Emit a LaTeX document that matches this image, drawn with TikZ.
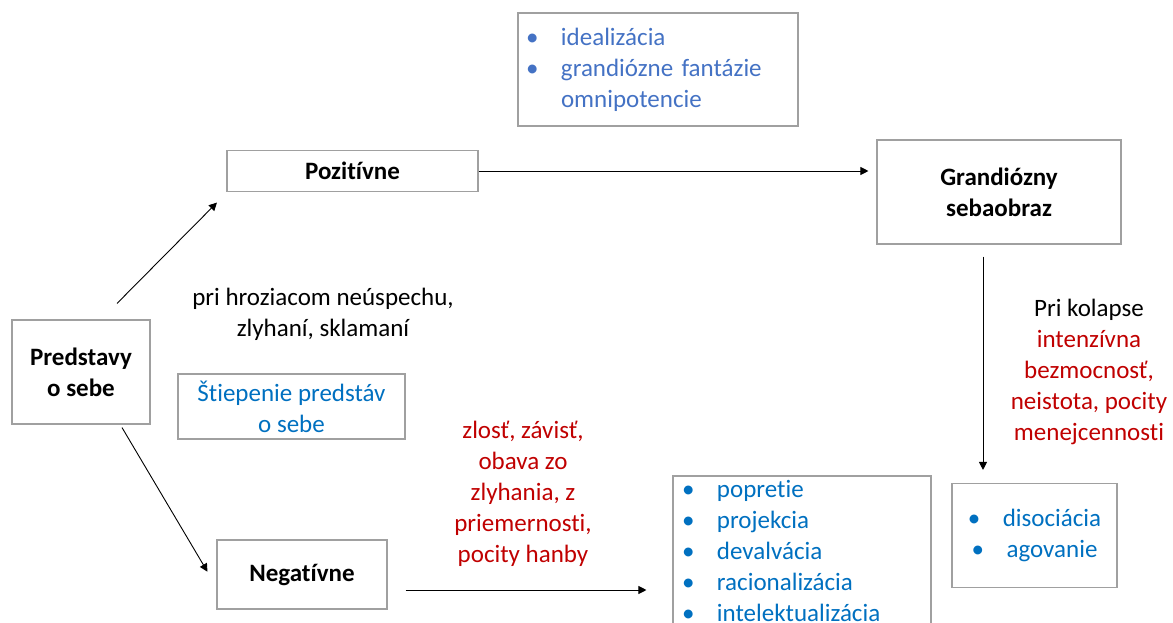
\documentclass[tikz,border=0pt]{standalone}
\usepackage{fontspec}
\setmainfont{Carlito}[RawFeature=-liga]
\usepackage{xcolor}
\usetikzlibrary{arrows.meta,calc}
\definecolor{boxgray}{RGB}{160,160,160}
\definecolor{lightblue}{RGB}{68,114,196}
\definecolor{deepblue}{RGB}{0,112,192}
\definecolor{deepred}{RGB}{192,0,0}
\tikzstyle{framed} = [rectangle, draw=boxgray, line width=1.1pt, inner sep=0pt, align=center]
\tikzstyle{heading} = [framed, font=\fontsize{25}{31}\selectfont\bfseries]
\tikzstyle{arrow} = [line width=0.9pt,-{Triangle[length=8pt,width=8pt]}]
\newcommand{\bul}{\makebox[35pt][l]{•}}

\begin{document}
\begin{tikzpicture}[x=1pt, y=-1pt, font=\fontsize{25}{31}\selectfont]
\useasboundingbox (0,0) rectangle (1173,623);
\clip (0,0) rectangle (1173,623);

\node (pred) [heading, minimum width=138pt, minimum height=104pt] at (81,372) {Predstavy\\o sebe};
\node (pos) [heading, minimum width=251pt, minimum height=41pt] at (352.5,171) {Pozitívne};
\node (neg) [heading, minimum width=170pt, minimum height=69pt] at (302,574.5) {Negatívne};
\node (grand) [heading, minimum width=244pt, minimum height=104pt] at (999,192) {Grandiózny\\sebaobraz};
\node (ideal) [framed, align=left, text width=264pt, inner xsep=8pt, minimum height=113pt, text=lightblue] at (658,69.5)
  {\bul idealizácia\\\bul grandiózne fantázie\\\hspace*{35pt}omnipotencie};
\node (stiep) [framed, minimum width=227pt, minimum height=65pt, text=deepblue] at (291.5,406.5) {Štiepenie predstáv\\o sebe};
\node (defense) [framed, align=left, text width=240pt, inner xsep=9pt, minimum height=150pt, text=deepblue] at (802,551)
  {\bul popretie\\\bul projekcia\\\bul devalvácia\\\bul racionalizácia\\\bul intelektualizácia};
\node (dis) [framed, minimum width=165pt, minimum height=104pt, text=deepblue] at (1034.5,535.5)
  {\bul disociácia\\\bul agovanie};

% texts without frame
\node (threat) [align=center] at (323,314.5) {pri hroziacom neúspechu,\\zlyhaní, sklamaní};
\node (feelings) [align=center, text=deepred] at (523,494) {zlosť, závisť,\\obava zo\\zlyhania, z\\priemernosti,\\pocity hanby};
\node (collapse) [align=center] at (1089,371.5) {Pri kolapse\\\textcolor{deepred}{intenzívna}\\\textcolor{deepred}{bezmocnosť,}\\\textcolor{deepred}{neistota, pocity}\\\textcolor{deepred}{menejcennosti}};

% arrows
\draw [arrow] ([xshift=36pt,yshift=16pt]pred.north) -- ([xshift=-9.5pt,yshift=-10.5pt]pos.south west);
\draw [arrow] ([xshift=41pt,yshift=-3pt]pred.south) -- ([xshift=-9pt,yshift=2.8pt]neg.west);
\draw [arrow] (pos.east) -- ([xshift=-8pt]pos.east -| grand.west);
\draw [arrow] ([xshift=-16pt,yshift=-12pt]grand.south) -- ([xshift=-16pt,yshift=13pt]grand.south |- dis.north);
\draw [arrow] ([xshift=18pt,yshift=-15.5pt]neg.east) -- ([xshift=-26pt,yshift=-39pt]defense.west);

\end{tikzpicture}
\end{document}
